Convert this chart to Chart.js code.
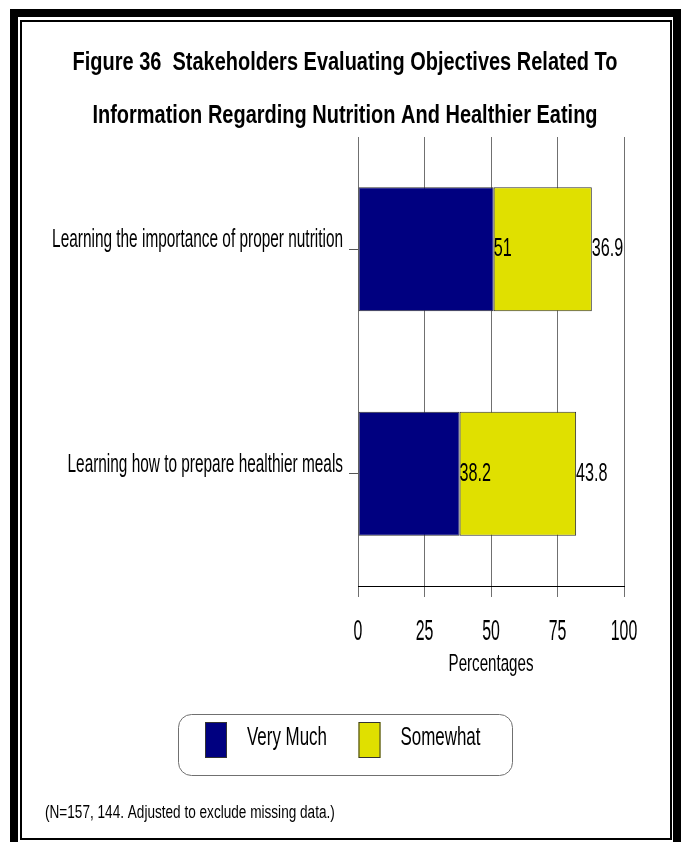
<!DOCTYPE html>
<html><head><meta charset="utf-8">
<script src="https://cdn.jsdelivr.net/npm/chart.js@4.4.1/dist/chart.umd.min.js"></script>
<style>
html,body{margin:0;padding:0;background:#fff;width:681px;height:842px;overflow:hidden;position:relative;}
#c{position:absolute;left:0;top:0;}
.frame{position:absolute;box-sizing:border-box;pointer-events:none;}
</style></head><body>
<canvas id="c" width="681" height="842"></canvas>
<div class="frame" style="left:10px;top:9px;width:671px;height:900px;border:8px solid #000;"></div>
<div class="frame" style="left:20px;top:20px;width:652px;height:820px;border:2px solid #000;"></div>
<script>
// ---- data ----
const titleLines = ['Figure 36  Stakeholders Evaluating Objectives Related To',
                    'Information Regarding Nutrition And Healthier Eating'];
const categories = ['Learning the importance of proper nutrition',
                    'Learning how to prepare healthier meals'];
const seriesNames = ['Very Much', 'Somewhat'];
const veryMuch = [51, 38.2];
const somewhat = [36.9, 43.8];
const xTickValues = [0, 25, 50, 75, 100];
const axisTitle = 'Percentages';
const footnote = '(N=157, 144. Adjusted to exclude missing data.)';

// ---- styling / layout ----
const FAMILY = "'Liberation Sans Narrow', 'Liberation Sans', Arial, sans-serif";
const CAP = 0.716;
const mctx = document.createElement('canvas').getContext('2d');
function fit(text, width, bold) {
  mctx.font = (bold ? 'bold ' : '') + '100px ' + FAMILY;
  return Math.round(100 * width / mctx.measureText(text).width * 100) / 100;
}
const S = {
  yLab: fit(categories[0], 291),
  xTick: fit('100', 26.5),
  xTitle: fit(axisTitle, 85),
  data: fit('36.9', 31.5),
  legend: fit(seriesNames[0], 80),
  title: fit(titleLines[0], 545, true),
  foot: fit(footnote, 290)
};
// the reference's lettering is tall and narrow: stretch axis text vertically
const capTargets = [[S.yLab, 19], [S.xTick, 21], [S.xTitle, 16.5]];

const canvas = document.getElementById('c');
const ctx0 = canvas.getContext('2d');
const origFill = ctx0.fillText;
ctx0.fillText = function (text, x, y, maxWidth) {
  const m = /([\d.]+)px/.exec(this.font);
  let f = 1;
  if (m) {
    const sz = parseFloat(m[1]);
    for (const [s, cap] of capTargets) if (Math.abs(s - sz) < 0.06) f = cap / (CAP * s);
  }
  this.save();
  this.translate(x, y);
  this.scale(1, f);
  if (maxWidth === undefined) origFill.call(this, text, 0, 0);
  else origFill.call(this, text, 0, 0, maxWidth);
  this.restore();
};

function drawText(ctx, text, x, y, size, bold, align, baseline, capPx) {
  ctx.save();
  ctx.translate(x, y);
  ctx.scale(1, capPx / (CAP * size));
  ctx.font = (bold ? 'bold ' : '') + size + 'px ' + FAMILY;
  ctx.textAlign = align; ctx.textBaseline = baseline; ctx.fillStyle = '#000';
  origFill.call(ctx, text, 0, 0);
  ctx.restore();
}

const decor = {
  id: 'decor',
  afterDatasetsDraw(chart) {
    const ctx = chart.ctx;
    chart.data.datasets.forEach((ds, i) => {
      chart.getDatasetMeta(i).data.forEach((el, j) => {
        drawText(ctx, String(ds.data[j]), el.x, el.y, S.data, false, 'left', 'middle', 18);
      });
    });
  },
  afterDraw(chart) {
    const ctx = chart.ctx;
    drawText(ctx, titleLines[0], 345, 70, S.title, true, 'center', 'alphabetic', 19);
    drawText(ctx, titleLines[1], 345, 123, S.title, true, 'center', 'alphabetic', 19);
    ctx.save();
    ctx.strokeStyle = '#707070'; ctx.lineWidth = 1;
    ctx.beginPath(); ctx.roundRect(178.5, 714.5, 334, 61, 13); ctx.stroke();
    chart.data.datasets.forEach((ds, i) => {
      const sx = 205 + i * 153.5;
      ctx.fillStyle = ds.backgroundColor; ctx.strokeStyle = '#333';
      ctx.fillRect(sx, 722, 22, 36);
      ctx.strokeRect(sx + 0.5, 722.5, 21, 35);
      drawText(ctx, ds.label, sx + 42, 745, S.legend, false, 'left', 'alphabetic', 19);
    });
    ctx.restore();
    drawText(ctx, footnote, 45, 818, S.foot, false, 'left', 'alphabetic', 13);
  }
};

const AREA_TOP = 137, AREA_BOTTOM = 586, XH = 100;
const xTickLH = S.xTick * 1.2;
const xTitleLH = S.xTitle * 1.2;

new Chart(canvas, {
  type: 'bar',
  data: {
    labels: categories,
    datasets: [
      { label: seriesNames[0], data: veryMuch, backgroundColor: '#000080', borderColor: '#303030', borderWidth: 1, borderSkipped: false },
      { label: seriesNames[1], data: somewhat, backgroundColor: '#E0E000', borderColor: '#303030', borderWidth: 1, borderSkipped: false }
    ]
  },
  options: {
    indexAxis: 'y',
    responsive: false,
    animation: false,
    devicePixelRatio: 1,
    layout: { padding: { top: AREA_TOP, left: 0, right: 57, bottom: 842 - AREA_BOTTOM - XH } },
    datasets: { bar: { barPercentage: 0.552, categoryPercentage: 1 } },
    plugins: { legend: { display: false }, title: { display: false }, tooltip: { enabled: false } },
    scales: {
      x: {
        stacked: true, min: 0, max: 100,
        afterBuildTicks: s => { s.ticks = xTickValues.map(v => ({ value: v })); },
        afterFit: s => { s.height = XH; },
        ticks: { color: '#000', font: { family: FAMILY, size: S.xTick }, maxRotation: 0, autoSkip: false,
                 padding: 632 - AREA_BOTTOM - 11 - xTickLH / 2 },
        grid: { color: '#707070', lineWidth: 1, tickLength: 11 },
        border: { color: '#000', width: 1 },
        title: { display: true, text: axisTitle, color: '#000', font: { family: FAMILY, size: S.xTitle },
                 padding: { top: 0, bottom: AREA_BOTTOM + XH - 665 - xTitleLH / 2 } }
      },
      y: {
        stacked: true,
        afterFit: s => { s.width = 358; },
        ticks: { color: '#000', font: { family: FAMILY, size: S.yLab }, padding: 6, labelOffset: -9.5, autoSkip: false },
        grid: { drawOnChartArea: false, drawTicks: true, tickLength: 9, color: '#555', offset: false },
        border: { display: false }
      }
    }
  },
  plugins: [decor]
});
</script>
</body></html>
